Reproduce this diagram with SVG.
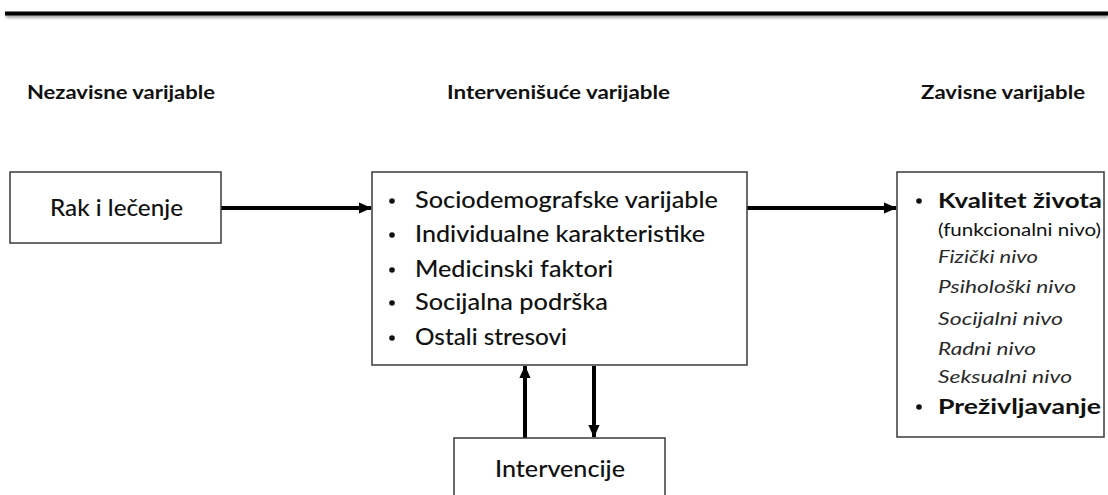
<svg xmlns="http://www.w3.org/2000/svg" width="1108" height="495" viewBox="0 0 1108 495">
<defs>
<marker id="ah" markerWidth="3.2" markerHeight="2.8" refX="3" refY="1.4" orient="auto" markerUnits="strokeWidth">
<path d="M0,0 L3.2,1.4 L0,2.8 Z" fill="#000"/>
</marker>
<filter id="blur" filterUnits="userSpaceOnUse" x="0" y="0" width="1108" height="40">
<feGaussianBlur stdDeviation="1.8"/>
</filter>
</defs>
<style>
text{font-family:Lato,"Open Sans","Liberation Sans",sans-serif;fill:#111}
.hd{font-weight:bold;font-size:19px}
.box{fill:#fff;stroke:#3a3a3a;stroke-width:1.5}
.big{font-size:23px;font-weight:500}
.it{font-style:italic;font-size:18px;fill:#2a2a2a}
.bd{font-weight:bold;font-size:21px}
.sm{font-size:16.5px}
.con{stroke:#000;stroke-width:4;fill:none;marker-end:url(#ah)}
</style>
<rect width="1108" height="495" fill="#fff"/>
<rect x="6" y="13" width="1102" height="5" fill="#000" opacity="0.35" filter="url(#blur)"/>
<rect x="5" y="11.5" width="1103" height="4" fill="#000"/>
<g id="headers">
<text class="hd" x="27" y="99" textLength="188" lengthAdjust="spacingAndGlyphs">Nezavisne varijable</text>
<text class="hd" x="447" y="99" textLength="223" lengthAdjust="spacingAndGlyphs">Intervenišuće varijable</text>
<text class="hd" x="921" y="99" textLength="164" lengthAdjust="spacingAndGlyphs">Zavisne varijable</text>
</g>
<g id="connectors">
<line class="con" x1="221" y1="208" x2="371" y2="208"/>
<line class="con" x1="747" y1="208" x2="896" y2="208"/>
<line class="con" x1="525" y1="438" x2="525" y2="366"/>
<line class="con" x1="594" y1="366" x2="594" y2="437"/>
</g>
<g id="rak">
<rect class="box" x="10" y="172" width="211" height="71"/>
<text class="big" x="50" y="216" textLength="133" lengthAdjust="spacingAndGlyphs">Rak i lečenje</text>
</g>
<g id="interveniuce">
<rect class="box" x="372" y="172" width="375" height="193"/>
<circle cx="392" cy="201" r="2.8" fill="#111"/>
<circle cx="392" cy="235" r="2.8" fill="#111"/>
<circle cx="392" cy="270" r="2.8" fill="#111"/>
<circle cx="392" cy="303" r="2.8" fill="#111"/>
<circle cx="392" cy="338" r="2.8" fill="#111"/>
<text class="big" x="415" y="208" textLength="303" lengthAdjust="spacingAndGlyphs">Sociodemografske varijable</text>
<text class="big" x="415" y="242" textLength="290" lengthAdjust="spacingAndGlyphs">Individualne karakteristike</text>
<text class="big" x="415" y="277" textLength="198" lengthAdjust="spacingAndGlyphs">Medicinski faktori</text>
<text class="big" x="415" y="310" textLength="193" lengthAdjust="spacingAndGlyphs">Socijalna podrška</text>
<text class="big" x="415" y="345" textLength="152" lengthAdjust="spacingAndGlyphs">Ostali stresovi</text>
</g>
<g id="zavisne">
<rect class="box" x="897" y="172" width="207" height="265"/>
<circle cx="919" cy="201" r="2.8" fill="#111"/>
<circle cx="919" cy="407" r="2.8" fill="#111"/>
<text class="bd" x="938" y="208" textLength="164" lengthAdjust="spacingAndGlyphs">Kvalitet života</text>
<text class="sm" x="938" y="236" textLength="163" lengthAdjust="spacingAndGlyphs">(funkcionalni nivo)</text>
<text class="it" x="938" y="263" textLength="100" lengthAdjust="spacingAndGlyphs">Fizički nivo</text>
<text class="it" x="938" y="293" textLength="138" lengthAdjust="spacingAndGlyphs">Psihološki nivo</text>
<text class="it" x="938" y="325" textLength="125" lengthAdjust="spacingAndGlyphs">Socijalni nivo</text>
<text class="it" x="938" y="355" textLength="98" lengthAdjust="spacingAndGlyphs">Radni nivo</text>
<text class="it" x="938" y="383" textLength="134" lengthAdjust="spacingAndGlyphs">Seksualni nivo</text>
<text class="bd" x="938" y="414" textLength="163" lengthAdjust="spacingAndGlyphs">Preživljavanje</text>
</g>
<g id="intervencije">
<rect class="box" x="454" y="438" width="211" height="70"/>
<text class="big" x="495" y="477" textLength="130" lengthAdjust="spacingAndGlyphs">Intervencije</text>
</g>
</svg>
